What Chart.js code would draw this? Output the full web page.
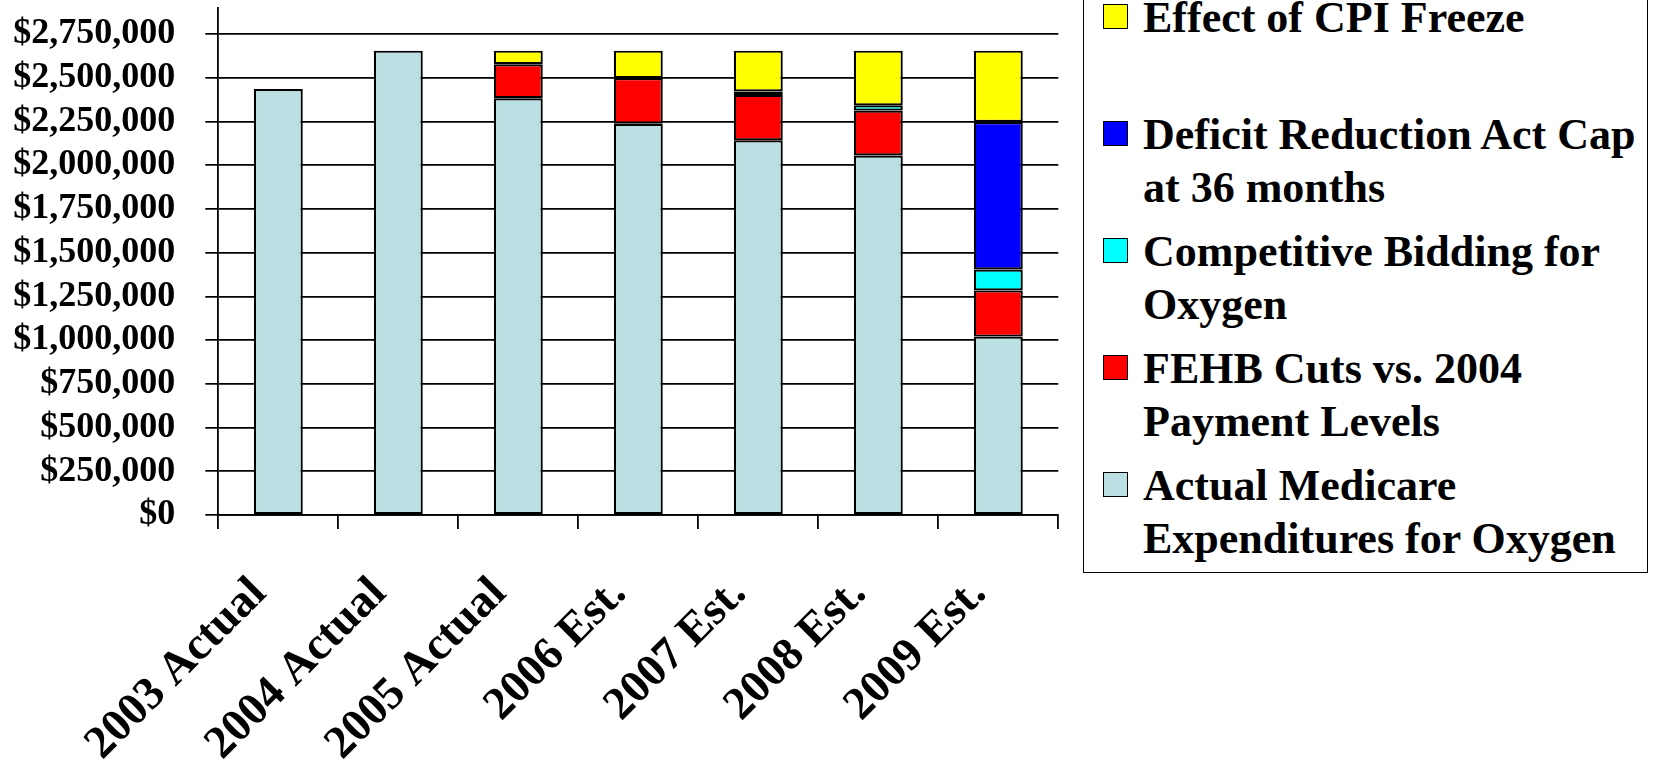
<!DOCTYPE html>
<html>
<head>
<meta charset="utf-8">
<script src="https://cdn.jsdelivr.net/npm/chart.js@4"></script>
<style>
  body { margin: 0; background: #fff; }
  #wrap { position: relative; width: 1659px; height: 760px; overflow: hidden; }
  #legend {
    position: absolute; left: 1083px; top: -10px; width: 563px; height: 581px;
    border: 1.5px solid #000; background: #fff;
    font-family: "Liberation Serif", "Times New Roman", serif; font-weight: bold; font-size: 44px;
  }
  .item { display: flex; align-items: flex-start; margin-left: 19px; margin-bottom: 11px; }
  .box { width: 23px; height: 23px; border: 1.5px solid #000; margin-top: 13px; margin-right: 15px; flex: none; }
  .txt { line-height: 53px; white-space: nowrap; min-height: 106px; }
</style>
</head>
<body>
<div id="wrap">
  <canvas id="c" width="1659" height="760"></canvas>
  <div id="legend"></div>
</div>
<script>
// categorias y series (valores en dolares)
const categories = ['2003 Actual', '2004 Actual', '2005 Actual', '2006 Est.', '2007 Est.', '2008 Est.', '2009 Est.'];
const actualMedicare = [2435000, 2655000, 2383000, 2237000, 2142000, 2055000, 1020000];
const fehbCuts      = [null, null, 194000, 261000, 260000, 257000, 264000];
const compBidding   = [null, null, null, null, null, 30000, 120000];
const draCap        = [null, null, null, null, 20000, null, 843000];
const cpiFreeze     = [null, null, 78000, 157000, 233000, 313000, 408000];

// marcas del eje Y
const yTicks = [0, 250000, 500000, 750000, 1000000, 1250000, 1500000, 1750000, 2000000, 2250000, 2500000, 2750000];

const seriesNames = [
  ['Actual Medicare', 'Expenditures for Oxygen'],
  ['FEHB Cuts vs. 2004', 'Payment Levels'],
  ['Competitive Bidding for', 'Oxygen'],
  ['Deficit Reduction Act Cap', 'at 36 months'],
  ['Effect of CPI Freeze']
];
const seriesColors = ['#BBE0E3', '#FF0000', '#00FFFF', '#0000FF', '#FFFF00'];
const seriesData = [actualMedicare, fehbCuts, compBidding, draCap, cpiFreeze];

const FONT = '"Liberation Serif", "Times New Roman", serif';

const datasets = seriesData.map((d, i) => ({
  label: seriesNames[i].join(' '),
  data: d,
  backgroundColor: seriesColors[i],
  borderColor: '#000',
  borderWidth: 2.2,
  borderSkipped: false,
  barPercentage: 0.408,
  categoryPercentage: 1.0
}));

new Chart(document.getElementById('c'), {
  type: 'bar',
  data: { labels: categories, datasets: datasets },
  options: {
    responsive: false,
    animation: false,
    layout: { padding: { top: 8.3, right: 600.7, left: 0, bottom: 0 } },
    plugins: { legend: { display: false }, tooltip: { enabled: false } },
    scales: {
      x: {
        stacked: true,
        grid: { drawOnChartArea: false, drawTicks: true, tickLength: 14, color: '#000', lineWidth: 1.8, offset: true },
        border: { color: '#000', width: 1.8 },
        ticks: { color: '#000', font: { family: FONT, size: 46, weight: 'bold' }, minRotation: 45, maxRotation: 45, padding: 38, labelOffset: -19, autoSkip: false },
        afterFit: s => { s.height = 245; s.paddingLeft = 0; s.paddingRight = 0; }
      },
      y: {
        stacked: true,
        min: 0,
        max: 2897000,
        grid: { color: '#000', lineWidth: 1.7, tickLength: 13 },
        border: { color: '#000', width: 1.8 },
        ticks: {
          autoSkip: false,
          color: '#000',
          padding: 30,
          font: { family: FONT, size: 36, weight: 'bold' },
          callback: v => '$' + Number(v).toLocaleString('en-US')
        },
        afterBuildTicks: s => { s.ticks = yTicks.map(v => ({ value: v })); },
        afterFit: s => { s.width = 218.3; s.paddingTop = 0; s.paddingBottom = 0; }
      }
    }
  }
});

// leyenda en orden inverso (como en el original)
const leg = document.getElementById('legend');
for (let i = seriesNames.length - 1; i >= 0; i--) {
  const it = document.createElement('div');
  it.className = 'item';
  it.innerHTML = '<div class="box" style="background:' + seriesColors[i] + '"></div><div class="txt">' + seriesNames[i].join('<br>') + '</div>';
  leg.appendChild(it);
}
</script>
</body>
</html>
